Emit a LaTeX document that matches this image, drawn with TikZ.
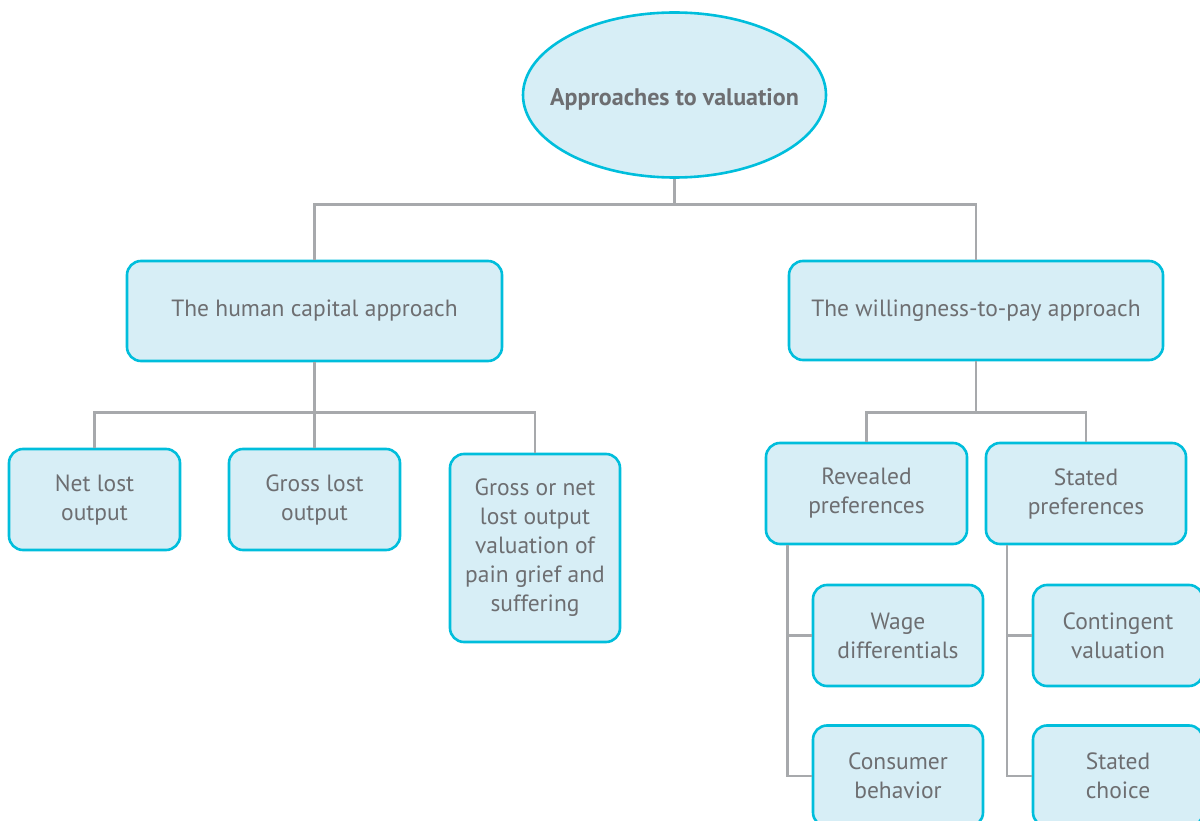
\documentclass[tikz,border=0pt]{standalone}
\usepackage{fontspec}
\setmainfont{PT Sans}
\usetikzlibrary{shapes.geometric}
\definecolor{boxfill}{HTML}{D7EEF6}
\definecolor{boxline}{HTML}{00BEDC}
\definecolor{txt}{HTML}{6D6E71}
\definecolor{wire}{HTML}{A7A9AC}
\tikzset{
  box/.style={draw=boxline, fill=boxfill, line width=2.6pt, rounded corners=14pt,
    align=center, text=txt, inner sep=0pt,
    font=\fontsize{23.5}{29}\selectfont},
  wire/.style={draw=wire, line width=2.6pt},
}
\begin{document}
\begin{tikzpicture}[x=1pt,y=-1pt]
\useasboundingbox (0,0) rectangle (1200,821);
% top ellipse with its title set on top
\node[ellipse, draw=boxline, fill=boxfill, line width=2.6pt, minimum width=303pt,
  minimum height=165pt, inner sep=0pt] (root) at (674.5,95) {};
\node[text=txt, inner sep=0pt, font=\fontsize{24}{29}\selectfont\bfseries]
  (roottext) at ([yshift=-4pt]root.center) {Approaches to valuation};
% second level
\node[box, minimum width=375pt, minimum height=100pt] (hc) at (314.5,311) {The human capital approach};
\node[box, minimum width=374pt, minimum height=99pt] (wtp) at (976,310.5) {The willingness-to-pay approach};
% human capital children
\node[box, minimum width=171pt, minimum height=101pt] (net) at (94.5,499.5) {Net lost\\output};
\node[box, minimum width=171pt, minimum height=101pt] (gross) at (314.5,499.5) {Gross lost\\output};
\node[box, minimum width=170pt, minimum height=188pt] (pain) at (535,548) {Gross or net\\lost output\\valuation of\\pain grief and\\suffering};
% willingness-to-pay children
\node[box, minimum width=201pt, minimum height=101pt] (rev) at (866.5,493.5) {Revealed\\preferences};
\node[box, minimum width=200pt, minimum height=101pt] (sta) at (1086,493.5) {Stated\\preferences};
\node[box, minimum width=170pt, minimum height=101pt] (wage) at (898,635.5) {Wage\\differentials};
\node[box, minimum width=170pt, minimum height=101pt] (cons) at (898,776) {Consumer\\behavior};
\node[box, minimum width=170pt, minimum height=101pt] (cont) at (1118,635.5) {Contingent\\valuation};
\node[box, minimum width=170pt, minimum height=101pt] (choice) at (1118,776) {Stated\\choice};
% connectors
\path[wire] (root.south) -- ++(0,26) -| (hc.north);
\path[wire] (root.south) ++(0,26) -| (wtp.north);
\path[wire] (hc.south) -- ++(0,50) -| (net.north);
\path[wire] (hc.south) ++(0,50) -| (gross.north);
\path[wire] (hc.south) ++(0,50) -| (pain.north);
\path[wire] (wtp.south) -- ++(0,51) -| (rev.north);
\path[wire] (wtp.south) ++(0,51) -| (sta.north);
\coordinate (rl) at ([xshift=-79pt]rev.south);
\coordinate (sl) at ([xshift=-79pt]sta.south);
\path[wire] (rl) |- (wage.west);
\path[wire] (rl) |- (cons.west);
\path[wire] (sl) |- (cont.west);
\path[wire] (sl) |- (choice.west);
\end{tikzpicture}
\end{document}
